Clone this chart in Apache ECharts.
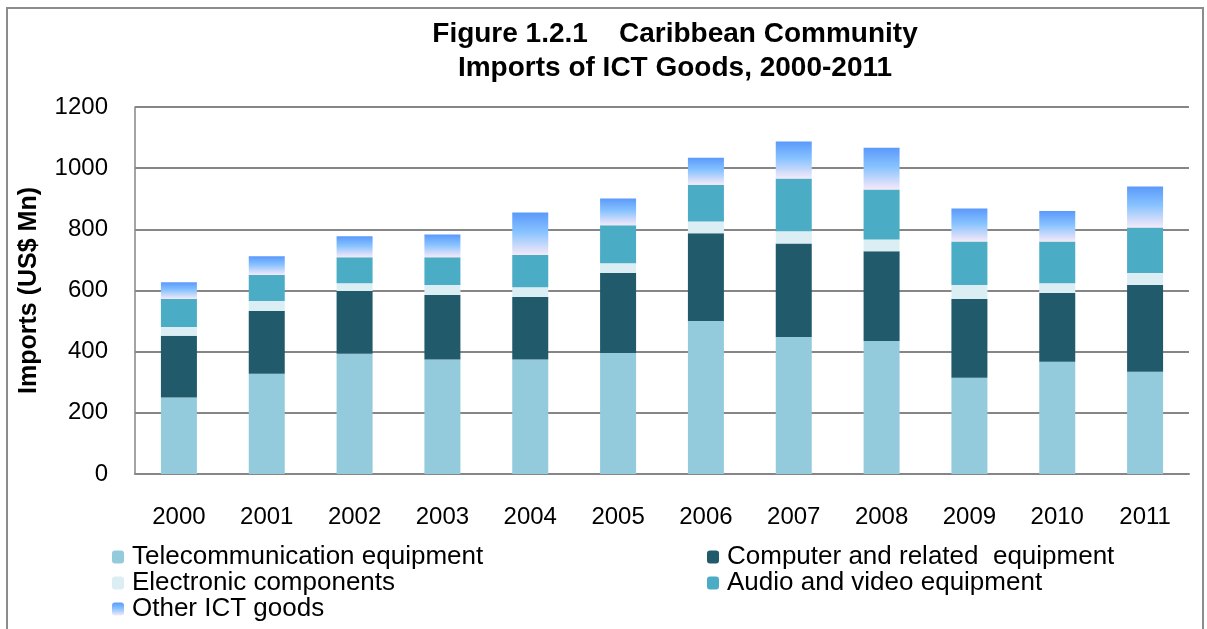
<!DOCTYPE html>
<html>
<head>
<meta charset="utf-8">
<script src="https://cdn.jsdelivr.net/npm/echarts@6/dist/echarts.min.js"></script>
<style>
  html, body { margin: 0; padding: 0; background: #fff; }
  #chart { width: 1207px; height: 629px; }
</style>
</head>
<body>
<div id="chart"></div>
<script>
var years = ['2000','2001','2002','2003','2004','2005','2006','2007','2008','2009','2010','2011'];
var telecom    = [250, 328, 393, 374, 374, 396, 500, 448, 435, 315, 367, 334];
var computer   = [202, 205, 205, 211, 205, 261, 287, 306, 293, 257, 225, 284];
var electronic = [29, 33, 26, 33, 32, 32, 39, 40, 39, 46, 32, 39];
var audio      = [91, 85, 85, 91, 105, 124, 120, 172, 163, 142, 136, 149];
var otherIct   = [55, 61, 68, 74, 139, 88, 88, 121, 137, 108, 100, 134];
var yTicks = [0, 200, 400, 600, 800, 1000, 1200];

var font = 'Liberation Sans, Arial, sans-serif';
var myChart = echarts.init(document.getElementById('chart'));

var otherGrad = new echarts.graphic.LinearGradient(0, 0, 0, 1, [
        {offset: 0, color: '#5b99fb'},
        {offset: 0.45, color: '#86c2ff'},
        {offset: 1, color: '#f6e9f8'}
]);

function bar(name, data, color) {
        return {
                name: name,
                type: 'bar',
                stack: 'ict',
                barWidth: 36,
                data: data,
                itemStyle: {color: color}
        };
}

var legendStyle = {
        orient: 'vertical',
        top: 544,
        height: 90,
        padding: 0,
        itemGap: 0,
        itemWidth: 12,
        itemHeight: 13,
        textStyle: {fontSize: 26, lineHeight: 26, color: '#000', fontFamily: font, padding: [0, 0, 0, 3]}
};

var option = {
        animation: false,
        textStyle: {fontFamily: font},
        title: {
                text: 'Figure 1.2.1    Caribbean Community\nImports of ICT Goods, 2000-2011',
                left: 670,
                textAlign: 'center',
                top: 12,
                textStyle: {fontSize: 28, fontWeight: 'bold', color: '#000', lineHeight: 34, fontFamily: font}
        },
        graphic: [{
                type: 'rect',
                shape: {x: 7, y: 8, width: 1196, height: 640},
                style: {fill: 'none', stroke: '#8c8c8c', lineWidth: 2}
        }],
        legend: [
                Object.assign({}, legendStyle, {
                        left: 112,
                        data: ['Telecommunication equipment', 'Electronic components', 'Other ICT goods']
                }),
                Object.assign({}, legendStyle, {
                        left: 707,
                        data: ['Computer and related  equipment', 'Audio and video equipment']
                })
        ],
        grid: {left: 135, right: 18, top: 107, bottom: 155},
        xAxis: {
                type: 'category',
                data: years,
                axisLine: {lineStyle: {color: '#868686', width: 2}},
                axisTick: {show: false},
                axisLabel: {fontSize: 24, color: '#000', margin: 31, fontFamily: font}
        },
        yAxis: {
                type: 'value',
                min: yTicks[0],
                max: yTicks[yTicks.length - 1],
                interval: 200,
                name: 'Imports (US$ Mn)',
                nameLocation: 'middle',
                nameGap: 93,
                nameTextStyle: {fontSize: 25, fontWeight: 'bold', color: '#000', fontFamily: font},
                axisLine: {show: true, lineStyle: {color: '#868686', width: 1.5}},
                axisTick: {show: false},
                axisLabel: {
                        fontSize: 24, color: '#000', margin: 27, fontFamily: font,
                        formatter: function (v) { return String(v); }
                },
                splitLine: {lineStyle: {color: '#868686', width: 2}}
        },
        series: [
                bar('Telecommunication equipment', telecom, '#93cbdc'),
                bar('Computer and related  equipment', computer, '#215a6b'),
                bar('Electronic components', electronic, '#dbeef4'),
                bar('Audio and video equipment', audio, '#4bacc6'),
                bar('Other ICT goods', otherIct, otherGrad)
        ]
};
myChart.setOption(option);
</script>
</body>
</html>
